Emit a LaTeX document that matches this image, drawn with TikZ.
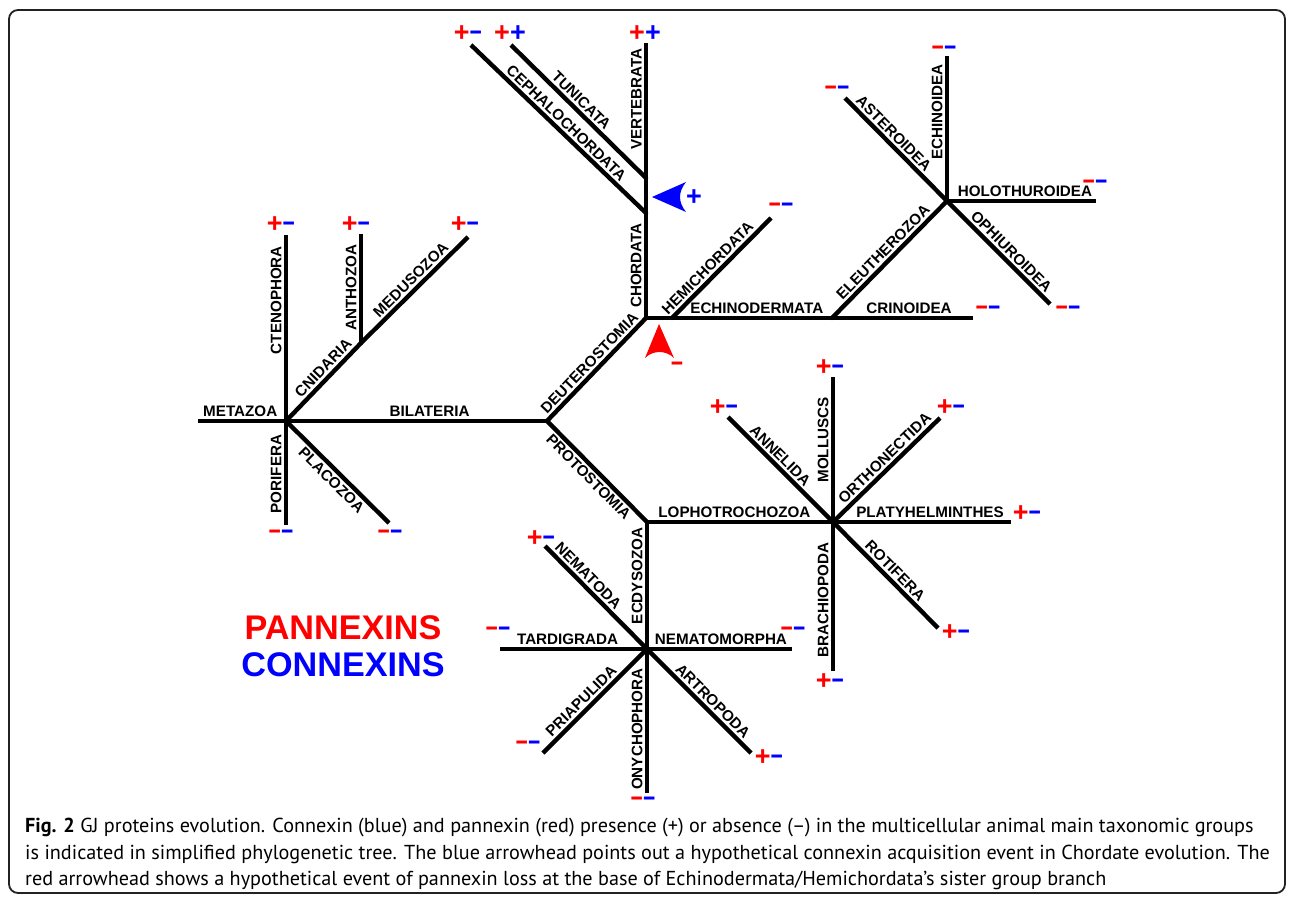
\documentclass[tikz,border=0pt]{standalone}
\usepackage{fontspec}
\setmainfont{PT Sans}
\newfontfamily\arialf{Liberation Sans}
\definecolor{pxred}{RGB}{255,0,0}
\definecolor{cxblue}{RGB}{0,0,255}
\definecolor{framegray}{RGB}{34,34,34}
\newcommand{\lblfont}{\arialf\bfseries\fontsize{15.2}{16}\selectfont}
\newcommand{\sgnfont}{\arialf\bfseries\fontsize{27}{27}\selectfont}
\newcommand{\legfont}{\arialf\bfseries\fontsize{34.2}{36}\selectfont}
\newcommand{\capfont}{\fontsize{20.2}{24}\selectfont}
\newcommand{\sgnRp}{{\color{pxred}+}}
\newcommand{\sgnBp}{{\color{cxblue}+}}
\newcommand{\sgnRm}{{\color{pxred}\scalebox{0.78}[1]{−}}}
\newcommand{\sgnBm}{{\color{cxblue}\scalebox{0.78}[1]{−}}}
\begin{document}
\begin{tikzpicture}[x=1pt,y=-1pt,
  br/.style={line width=4.4pt, line cap=butt},
  lbl/.style={font=\lblfont, inner sep=4.5pt, outer sep=0pt, sloped, above},
  lblb/.style={font=\lblfont, inner sep=4.5pt, outer sep=0pt, sloped, below},
  sgn/.style={font=\sgnfont, inner sep=0pt, outer sep=0pt, text height=16pt, text depth=0pt, anchor=center},
  legend/.style={font=\legfont, inner sep=0pt, anchor=base},
  captxt/.style={font=\capfont, inner sep=0pt, anchor=base west},
  junc/.style={fill=black}]
\useasboundingbox (0,0) rectangle (1295,904);
\fill[white] (0,0) rectangle (1295,904);
\draw[framegray, line width=1.8pt, rounded corners=9pt] (9,10) rectangle (1285,893);

% junctions
\coordinate (M) at (286,421);
\coordinate (B) at (547,421);
\coordinate (An) at (361,343);
\coordinate (D) at (646,318);
\coordinate (C1) at (646,213);
\coordinate (C2) at (646,178);
\coordinate (H0) at (672,318);
\coordinate (E1) at (832,318);
\coordinate (E2) at (947,201);
\coordinate (P) at (647,522);
\coordinate (L) at (833,522);
\coordinate (Ec) at (647,649);
% tips
\coordinate (metazoa) at (198,421);
\coordinate (cteno) at (286,235);
\coordinate (porif) at (286,525);
\coordinate (placo) at (389,523);
\coordinate (antho) at (361,234);
\coordinate (meduso) at (468,237);
\coordinate (cephalo) at (471,45);
\coordinate (tunic) at (511,45);
\coordinate (verteb) at (646,43);
\coordinate (hemi) at (771,218);
\coordinate (crino) at (973,318);
\coordinate (echinoi) at (947,56);
\coordinate (astero) at (845,98);
\coordinate (holo) at (1096,201);
\coordinate (ophiu) at (1050,304);
\coordinate (nemato) at (545,546);
\coordinate (tardi) at (500,649);
\coordinate (nematom) at (792,649);
\coordinate (priap) at (543,753);
\coordinate (onych) at (647,793);
\coordinate (artro) at (751,753);
\coordinate (mollus) at (833,377);
\coordinate (annel) at (728,417);
\coordinate (ortho) at (940,418);
\coordinate (platy) at (1011,522);
\coordinate (rotif) at (938,628);
\coordinate (brach) at (833,671);

% branches
\draw[br] (metazoa) -- (M) node[lbl,pos=.48] (lMetazoa) {METAZOA};
\draw[br] (M) -- (B) node[lbl,pos=.55] (lBilateria) {BILATERIA};
\draw[br] (M) -- (cteno) node[lbl,pos=.65] (lCteno) {CTENOPHORA};
\draw[br] (porif) -- (M) node[lbl,pos=.49] (lPorif) {PORIFERA};
\draw[br] (M) -- (placo) node[lblb,pos=.51] (lPlaco) {PLACOZOA};
\draw[br] (M) -- (An) node[lbl,pos=.59] (lCnid) {CNIDARIA};
\draw[br] (An) -- (antho) node[lbl,pos=.51] (lAntho) {ANTHOZOA};
\draw[br] (An) -- (meduso) node[lbl,pos=.53] (lMeduso) {MEDUSOZOA};
\draw[br] (B) -- (D) node[lbl,pos=.50] (lDeut) {DEUTEROSTOMIA};
\draw[br] (D) -- (C1) node[lbl,pos=.50] (lChord) {CHORDATA};
\draw[br] (cephalo) -- (C1) node[lbl,pos=.506] (lCeph) {CEPHALOCHORDATA};
\draw[br] (C1) -- (C2);
\draw[br] (tunic) -- (C2) node[lbl,pos=.47] (lTunic) {TUNICATA};
\draw[br] (C2) -- (verteb) node[lbl,pos=.585] (lVert) {VERTEBRATA};
\draw[br] (D) -- (H0);
\draw[br] (H0) -- (hemi) node[lbl,pos=.43] (lHemi) {HEMICHORDATA};
\draw[br] (H0) -- (E1) node[lbl,pos=.53] (lEchd) {ECHINODERMATA};
\draw[br] (E1) -- (crino) node[lbl,pos=.546] (lCrino) {CRINOIDEA};
\draw[br] (E1) -- (E2) node[lbl,pos=.505] (lEleu) {ELEUTHEROZOA};
\draw[br] (E2) -- (echinoi) node[lbl,pos=.614] (lEchi) {ECHINOIDEA};
\draw[br] (astero) -- (E2) node[lbl,pos=.41] (lAster) {ASTEROIDEA};
\draw[br] (E2) -- (holo) node[lbl,pos=.523] (lHolo) {HOLOTHUROIDEA};
\draw[br] (E2) -- (ophiu) node[lbl,pos=.558] (lOphi) {OPHIUROIDEA};
\draw[br] (B) -- (P) node[lblb,pos=.486] (lProto) {PROTOSTOMIA};
\draw[br] (P) -- (L) node[lbl,pos=.47] (lLopho) {LOPHOTROCHOZOA};
\draw[br] (Ec) -- (P) node[lbl,pos=.575] (lEcdy) {ECDYSOZOA};
\draw[br] (nemato) -- (Ec) node[lbl,pos=.356] (lNemato) {NEMATODA};
\draw[br] (tardi) -- (Ec) node[lbl,pos=.46] (lTardi) {TARDIGRADA};
\draw[br] (Ec) -- (nematom) node[lbl,pos=.51] (lNematom) {NEMATOMORPHA};
\draw[br] (priap) -- (Ec) node[lbl,pos=.433] (lPriap) {PRIAPULIDA};
\draw[br] (onych) -- (Ec) node[lbl,pos=.444] (lOnych) {ONYCHOPHORA};
\draw[br] (Ec) -- (artro) node[lbl,pos=.567] (lArtro) {ARTROPODA};
\draw[br] (L) -- (mollus) node[lbl,pos=.566] (lMollus) {MOLLUSCS};
\draw[br] (annel) -- (L) node[lbl,pos=.433] (lAnnel) {ANNELIDA};
\draw[br] (L) -- (ortho) node[lbl,pos=.547] (lOrtho) {ORTHONECTIDA};
\draw[br] (L) -- (platy) node[lbl,pos=.545] (lPlaty) {PLATYHELMINTHES};
\draw[br] (L) -- (rotif) node[lbl,pos=.526] (lRotif) {ROTIFERA};
\draw[br] (brach) -- (L) node[lbl,pos=.477] (lBrach) {BRACHIOPODA};

\foreach \j in {M,B,An,D,C1,C2,H0,E1,E2,P,L,Ec} \fill[junc] (\j) circle (2.2pt);

% presence / absence signs
\node[sgn] (sCeph) at (468,34) {\sgnRp\sgnBm};
\node[sgn] (sTunic) at (510,34) {\sgnRp\sgnBp};
\node[sgn] (sVert) at (645,34) {\sgnRp\sgnBp};
\node[sgn] (sCteno) at (281,225) {\sgnRp\sgnBm};
\node[sgn] (sAntho) at (356,225) {\sgnRp\sgnBm};
\node[sgn] (sMeduso) at (465,225) {\sgnRp\sgnBm};
\node[sgn] (sPorif) at (281,532) {\sgnRm\sgnBm};
\node[sgn] (sPlaco) at (390,532) {\sgnRm\sgnBm};
\node[sgn] (sHemi) at (781,206) {\sgnRm\sgnBm};
\node[sgn] (sCrino) at (988,308) {\sgnRm\sgnBm};
\node[sgn] (sEchi) at (944,49) {\sgnRm\sgnBm};
\node[sgn] (sAster) at (837,89) {\sgnRm\sgnBm};
\node[sgn] (sHolo) at (1095,182) {\sgnRm\sgnBm};
\node[sgn] (sOphi) at (1068,308) {\sgnRm\sgnBm};
\node[sgn] (sNemato) at (541,538) {\sgnRp\sgnBm};
\node[sgn] (sTardi) at (498,629) {\sgnRm\sgnBm};
\node[sgn] (sNematom) at (793,629) {\sgnRm\sgnBm};
\node[sgn] (sPriap) at (528,743) {\sgnRm\sgnBm};
\node[sgn] (sOnych) at (643,799) {\sgnRm\sgnBm};
\node[sgn] (sArtro) at (769,757) {\sgnRp\sgnBm};
\node[sgn] (sMollus) at (830,367) {\sgnRp\sgnBm};
\node[sgn] (sAnnel) at (724,407) {\sgnRp\sgnBm};
\node[sgn] (sOrtho) at (951,407) {\sgnRp\sgnBm};
\node[sgn] (sPlaty) at (1027,513) {\sgnRp\sgnBm};
\node[sgn] (sRotif) at (956,632) {\sgnRp\sgnBm};
\node[sgn] (sBrach) at (830,681) {\sgnRp\sgnBm};

% event arrowheads
\fill[cxblue] (652,197) -- (686,182) .. controls (678,192) and (678,202) .. (686,212) -- cycle;
\node[sgn] (sGain) at (694,198) {\sgnBp};
\fill[pxred] (659,324) -- (674,358) .. controls (666,350) and (653,350) .. (645,358) -- cycle;
\node[sgn] (sLoss) at (677,364) {\sgnRm};

% legend
\node[legend, text=pxred] (legP) at (343,639) {PANNEXINS};
\node[legend, text=cxblue] (legC) at (343,676) {CONNEXINS};

% caption
\node[captxt] (cap1) at (25,832) {\textbf{Fig. 2} GJ proteins evolution. Connexin (blue) and pannexin (red) presence (+) or absence (–) in the multicellular animal main taxonomic groups};
\node[captxt] (cap2) at (25,859) {is indicated in simplified phylogenetic tree. The blue arrowhead points out a hypothetical connexin acquisition event in Chordate evolution. The};
\node[captxt] (cap3) at (25,885) {red arrowhead shows a hypothetical event of pannexin loss at the base of Echinodermata/Hemichordata’s sister group branch};
\end{tikzpicture}
\end{document}
